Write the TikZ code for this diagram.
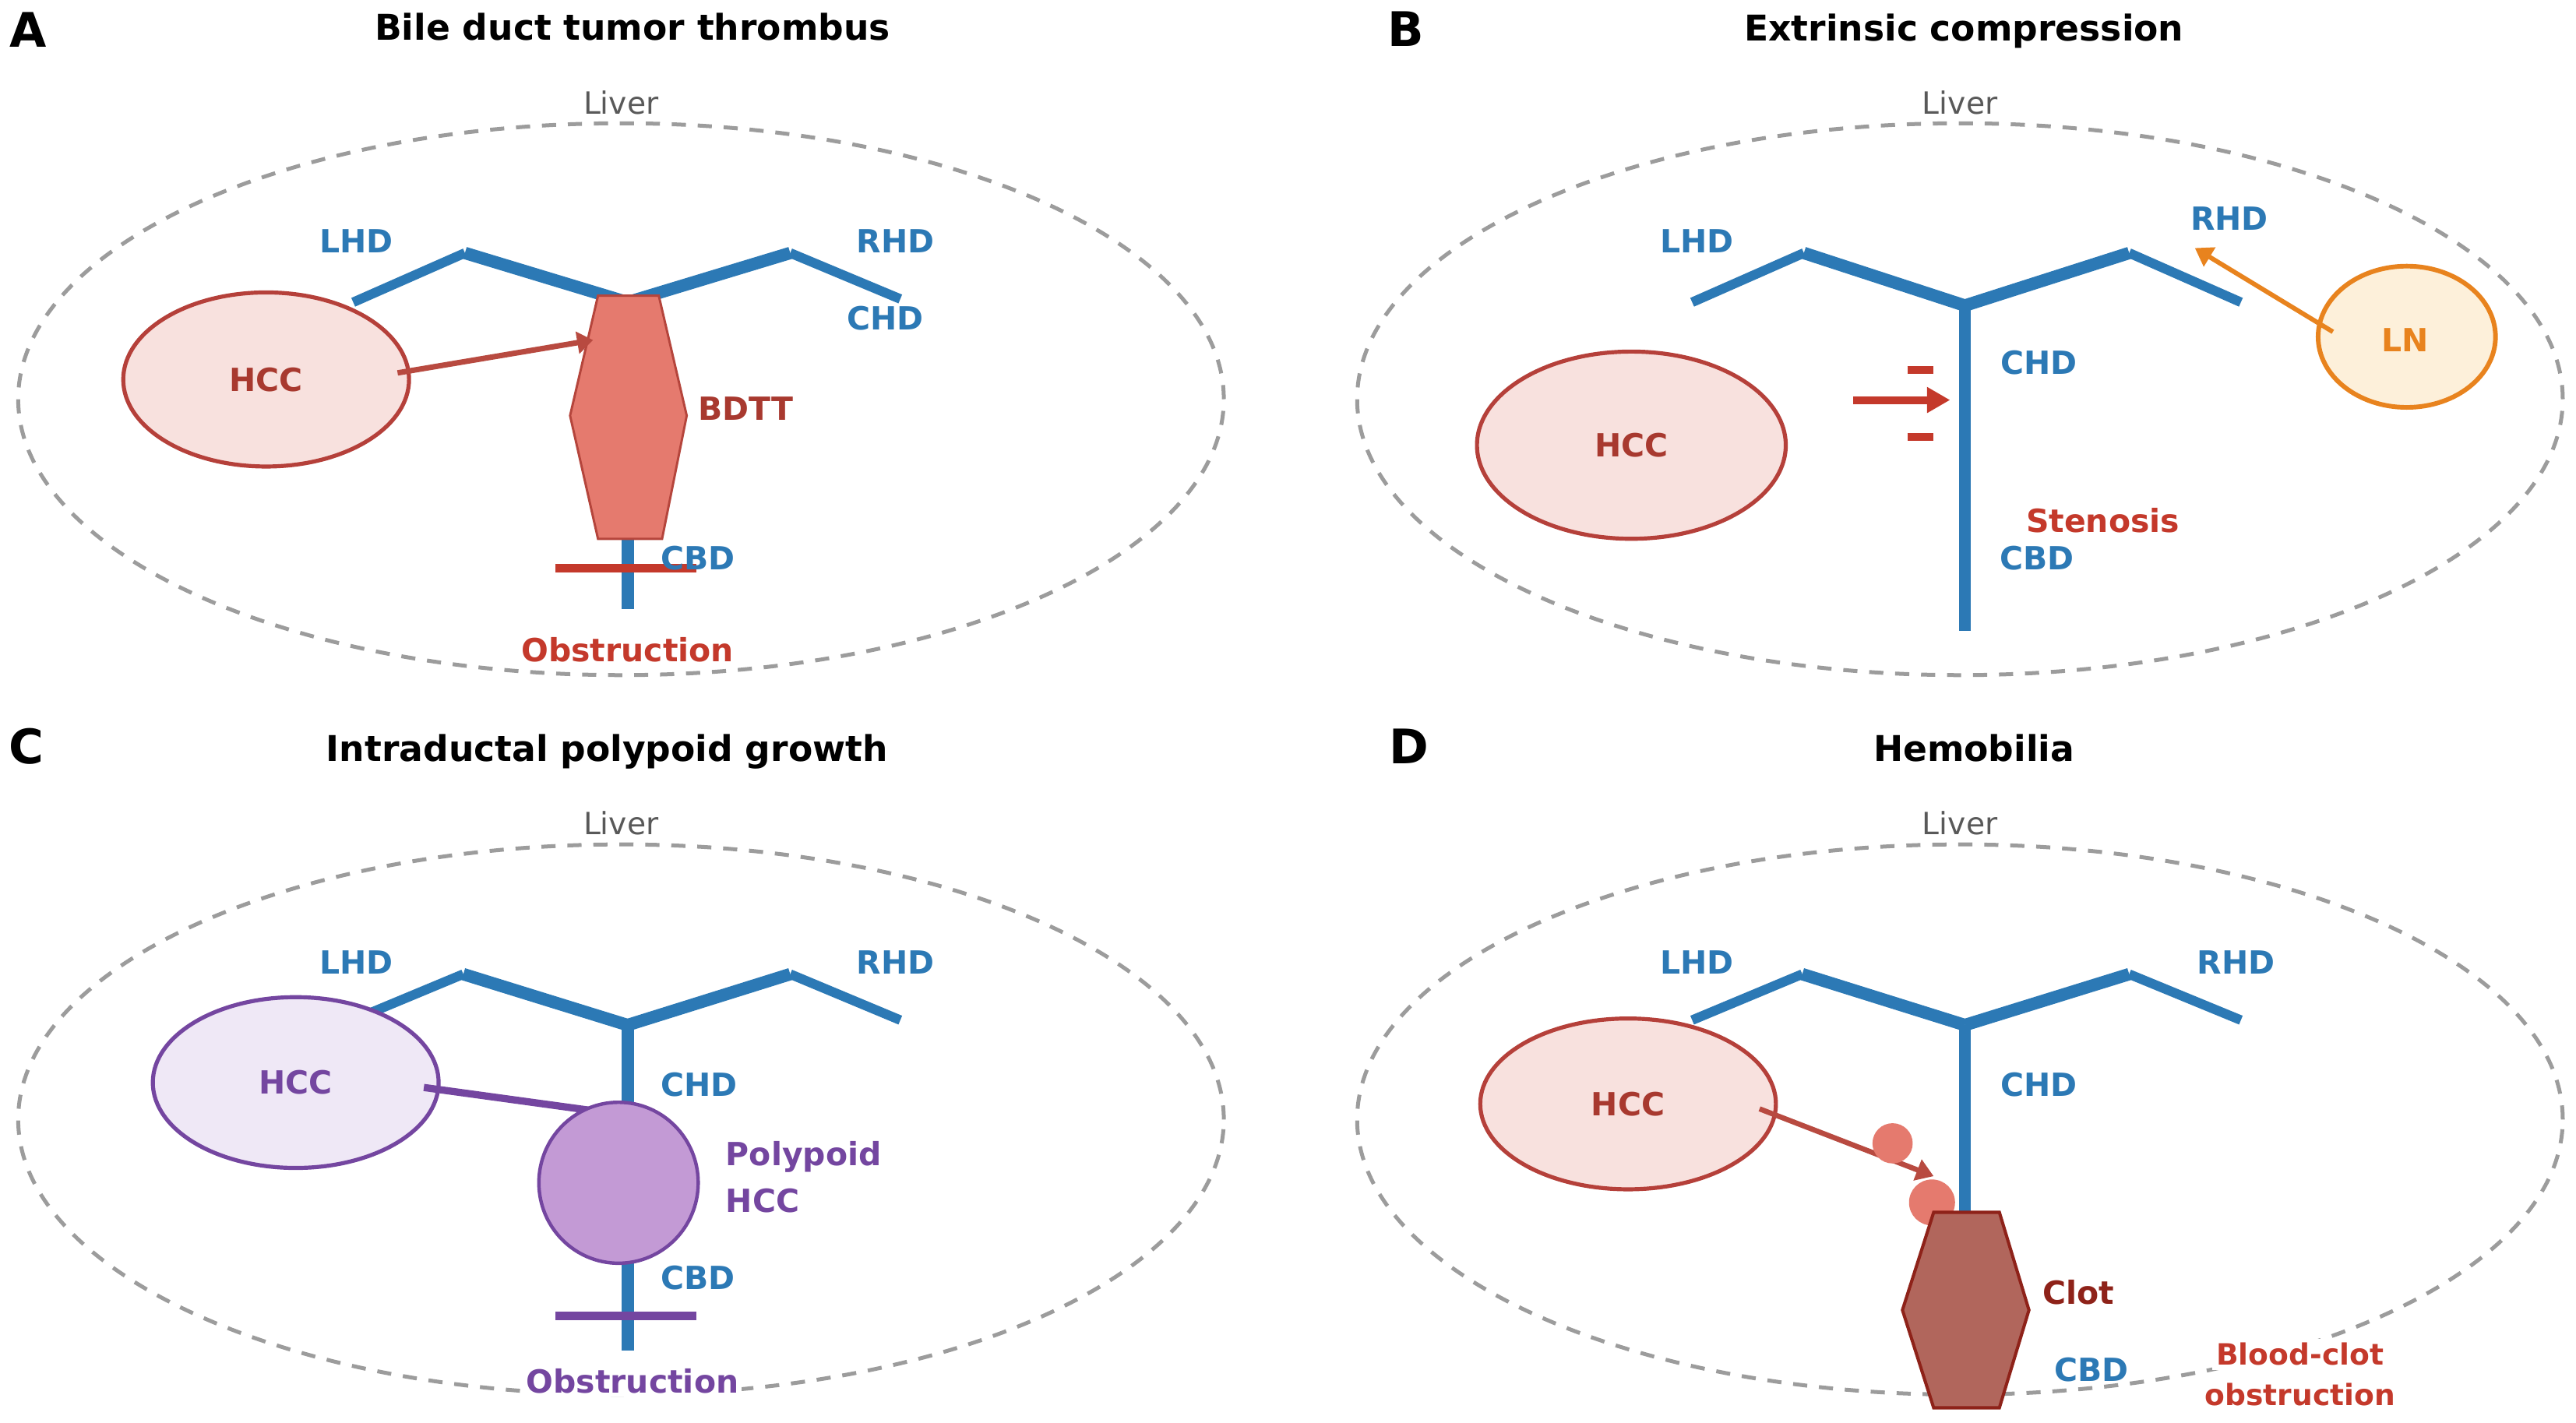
\documentclass[tikz,border=0pt]{standalone}
\usepackage{fontspec}
\setmainfont{DejaVu Sans}
\usetikzlibrary{shapes.geometric,arrows.meta}
\definecolor{duct}{HTML}{2C79B5}
\definecolor{livergray}{HTML}{9C9C9C}
\definecolor{livertext}{HTML}{595959}
\definecolor{hccline}{HTML}{B5403A}
\definecolor{hccfill}{HTML}{F8E1DE}
\definecolor{hcctext}{HTML}{A8392F}
\definecolor{bdttfill}{HTML}{E57A6E}
\definecolor{bdttline}{HTML}{B5453C}
\definecolor{obst}{HTML}{C4392B}
\definecolor{arrowred}{HTML}{B84A40}
\definecolor{purp}{HTML}{7446A0}
\definecolor{hccCfill}{HTML}{EFE8F6}
\definecolor{polyfill}{HTML}{C39AD5}
\definecolor{lnline}{HTML}{E8831E}
\definecolor{lnfill}{HTML}{FDF0DA}
\definecolor{clotfill}{HTML}{B1665C}
\definecolor{clotline}{HTML}{8E2219}
\newcommand\mylbl{\fontsize{11.05pt}{13pt}\selectfont\bfseries}
\newcommand\mysmlbl{\fontsize{10.15pt}{12pt}\selectfont\bfseries}
\newcommand\myttl{\fontsize{12.3pt}{14pt}\selectfont\bfseries}
\newcommand\mypnl{\fontsize{16.5pt}{18pt}\selectfont\bfseries}
\newcommand\myliv{\fontsize{10.6pt}{12pt}\selectfont}
\begin{document}
\begin{tikzpicture}[x=0.02cm,y=-0.02cm,
  liver/.style={draw=livergray, line width=1.35pt, dash pattern=on 4.9pt off 4.1pt},
  ductout/.style={draw=duct, line width=3.3pt},
  ductin/.style={draw=duct, line width=4.3pt},
  lbl/.style={inner sep=0pt, anchor=base, font=\mylbl},
  ttl/.style={inner sep=0pt, anchor=base, font=\myttl},
  pnl/.style={inner sep=0pt, anchor=base, font=\mypnl},
  livlbl/.style={inner sep=0pt, anchor=base, font=\myliv, text=livertext},
  blob/.style={ellipse, line width=1.4pt, font=\mylbl, inner sep=0pt},
  redarrow/.style={draw=arrowred, line width=1.9pt, -{Triangle[length=5.5pt,width=7.5pt]}},
  bar/.style={line width=3.1pt}
]
\useasboundingbox[fill=white] (0,0) rectangle (1568,866);

% ================= Panel A =================
\draw[liver] (378,243) ellipse [x radius=7.34cm, y radius=3.36cm];
\node[pnl] (pA) at (17,28.5) {A};
\node[ttl] (tA) at (385,24.5) {Bile duct tumor thrombus};
\node[livlbl] (lvA) at (378,69.4) {Liver};
\coordinate (aL) at (215,184); \coordinate (aLp) at (283,154);
\coordinate (aJ) at (382,184); \coordinate (aRp) at (481,154);
\coordinate (aR) at (548,182); \coordinate (aB) at (382,371);
\draw[ductout] (aL) -- (aLp);
\draw[ductin] (aLp) -- (aJ);
\draw[ductin] (aJ) -- (aRp);
\draw[ductout] (aRp) -- (aR);
\draw[ductin] (aJ) -- (aB);
\draw[fill=bdttfill, draw=bdttline, line width=0.8pt] (364,180) -- (401,180) -- (418,253) -- (403,328) -- (364,328) -- (347,253) -- cycle;
\coordinate (aO1) at (338,346); \coordinate (aO2) at (424,346);
\draw[bar, obst] (aO1) -- (aO2);
\node[blob, draw=hccline, fill=hccfill, text=hcctext, minimum width=3.48cm, minimum height=2.12cm] (hA) at (162,231) {HCC};
\coordinate (aA1) at (242,227); \coordinate (aA2) at (361,207);
\draw[redarrow] (aA1) -- (aA2);
\node[lbl, text=duct] (aLHD) at (217,154) {LHD};
\node[lbl, text=duct] (aRHD) at (545,154) {RHD};
\node[lbl, text=duct] (aCHD) at (539,201) {CHD};
\node[lbl, text=hcctext] (aBDTT) at (454,256) {BDTT};
\node[lbl, text=duct] (aCBD) at (425,347) {CBD};
\node[lbl, text=obst] (aObs) at (382,403) {Obstruction};

% ================= Panel B =================
\draw[liver] (1193,243) ellipse [x radius=7.34cm, y radius=3.36cm];
\node[pnl] (pB) at (855.5,28.3) {B};
\node[ttl] (tB) at (1195.5,24.8) {Extrinsic compression};
\node[livlbl] (lvB) at (1193,69.4) {Liver};
\coordinate (bL) at (1030,184); \coordinate (bLp) at (1098,154);
\coordinate (bJ) at (1196,186); \coordinate (bRp) at (1296,154);
\coordinate (bR) at (1364,184); \coordinate (bB) at (1196,384);
\draw[ductout] (bL) -- (bLp);
\draw[ductin] (bLp) -- (bJ);
\draw[ductin] (bJ) -- (bRp);
\draw[ductout] (bRp) -- (bR);
\draw[ductin] (bJ) -- (bB);
\node[blob, draw=hccline, fill=hccfill, text=hcctext, minimum width=3.76cm, minimum height=2.28cm] (hB) at (993,271) {HCC};
\coordinate (bm1) at (1161,225); \coordinate (bm2) at (1177,225);
\coordinate (bm3) at (1161,266); \coordinate (bm4) at (1177,266);
\draw[obst, line width=2.7pt] (bm1) -- (bm2);
\draw[obst, line width=2.7pt] (bm3) -- (bm4);
\coordinate (bA1) at (1128,243.5); \coordinate (bA2) at (1187,243.5);
\draw[obst, line width=2.7pt, -{Triangle[length=8pt,width=8.5pt]}] (bA1) -- (bA2);
\node[blob, draw=lnline, fill=lnfill, text=lnline, line width=1.6pt, minimum width=2.16cm, minimum height=1.72cm] (ln) at (1465,205) {};
\node[lbl, text=lnline] (lnt) at (1464,214) {LN};
\coordinate (bO1) at (1420,202); \coordinate (bO2) at (1336,151);
\draw[draw=lnline, line width=1.6pt, -{Triangle[length=6pt,width=7.5pt]}] (bO1) -- (bO2);
\node[lbl, text=duct] (bLHD) at (1033,154) {LHD};
\node[lbl, text=duct] (bRHD) at (1357,140) {RHD};
\node[lbl, text=duct] (bCHD) at (1241,228) {CHD};
\node[lbl, text=obst] (bSten) at (1280,324) {Stenosis};
\node[lbl, text=duct] (bCBD) at (1240,347) {CBD};

% ================= Panel C =================
\draw[liver] (378,681.5) ellipse [x radius=7.34cm, y radius=3.35cm];
\node[pnl] (pC) at (16,464.8) {C};
\node[ttl] (tC) at (369.5,463.7) {Intraductal polypoid growth};
\node[livlbl] (lvC) at (378,507.9) {Liver};
\coordinate (cL) at (222,618); \coordinate (cLp) at (282,593);
\coordinate (cJ) at (382,624); \coordinate (cRp) at (481,593);
\coordinate (cR) at (548,621); \coordinate (cB) at (382,822);
\draw[ductout] (cL) -- (cLp);
\draw[ductin] (cLp) -- (cJ);
\draw[ductin] (cJ) -- (cRp);
\draw[ductout] (cRp) -- (cR);
\draw[ductin] (cJ) -- (cB);
\node[blob, draw=purp, fill=hccCfill, text=purp, minimum width=3.48cm, minimum height=2.08cm] (hC) at (180,659) {HCC};
\coordinate (cA1) at (258,662); \coordinate (cA2) at (360,676);
\draw[draw=purp, line width=2.5pt] (cA1) -- (cA2);
\node[ellipse, draw=purp, fill=polyfill, line width=1.2pt, minimum width=1.94cm, minimum height=1.96cm, inner sep=0pt] (poly) at (376.5,720) {};
\coordinate (cO1) at (338,801); \coordinate (cO2) at (424,801);
\draw[bar, purp] (cO1) -- (cO2);
\node[lbl, text=duct] (cLHD) at (217,593) {LHD};
\node[lbl, text=duct] (cRHD) at (545,593) {RHD};
\node[lbl, text=duct] (cCHD) at (425.5,667.5) {CHD};
\node[lbl, text=purp, anchor=base west] (cPoly1) at (441.5,709.6) {Polypoid};
\node[lbl, text=purp, anchor=base west] (cPoly2) at (441.5,738) {HCC};
\node[lbl, text=duct] (cCBD) at (425,785) {CBD};
\node[lbl, text=purp, fill=white, inner sep=1pt] (cObs) at (385,848) {Obstruction};

% ================= Panel D =================
\draw[liver] (1193,681.5) ellipse [x radius=7.34cm, y radius=3.35cm];
\node[pnl] (pD) at (857.5,464.8) {D};
\node[ttl] (tD) at (1201.5,463.7) {Hemobilia};
\node[livlbl] (lvD) at (1193,507.9) {Liver};
\coordinate (dL) at (1030,621); \coordinate (dLp) at (1097,593);
\coordinate (dJ) at (1196,624); \coordinate (dRp) at (1296,593);
\coordinate (dR) at (1364,621); \coordinate (dB) at (1196,740);
\draw[ductout] (dL) -- (dLp);
\draw[ductin] (dLp) -- (dJ);
\draw[ductin] (dJ) -- (dRp);
\draw[ductout] (dRp) -- (dR);
\draw[ductin] (dJ) -- (dB);
\node[blob, draw=hccline, fill=hccfill, text=hcctext, minimum width=3.6cm, minimum height=2.08cm] (hD) at (991,672) {HCC};
\coordinate (dA1) at (1071,675); \coordinate (dA2) at (1177,716);
\draw[draw=arrowred, line width=1.8pt, -{Triangle[length=6pt,width=7.5pt]}] (dA1) -- (dA2);
\node[circle, fill=bdttfill, inner sep=0pt, minimum size=0.49cm] (c1) at (1152,696) {};
\node[circle, fill=bdttfill, inner sep=0pt, minimum size=0.56cm] (c2) at (1176,732) {};
\draw[fill=clotfill, draw=clotline, line width=1.1pt] (1177,738) -- (1217,738) -- (1235,797.5) -- (1217,857) -- (1177,857) -- (1158,797.5) -- cycle;
\node[lbl, text=duct] (dLHD) at (1033,593) {LHD};
\node[lbl, text=duct] (dRHD) at (1361,593) {RHD};
\node[lbl, text=duct] (dCHD) at (1241,667.5) {CHD};
\node[lbl, text=clotline] (dClot) at (1265,794) {Clot};
\node[lbl, text=duct] (dCBD) at (1273,841) {CBD};
\node[inner sep=1.5pt, anchor=base, font=\mysmlbl, text=obst, fill=white] (dBc1) at (1400,831) {Blood-clot};
\node[inner sep=1.5pt, anchor=base, font=\mysmlbl, text=obst, fill=white] (dBc2) at (1400,855.5) {obstruction};
\end{tikzpicture}
\end{document}
